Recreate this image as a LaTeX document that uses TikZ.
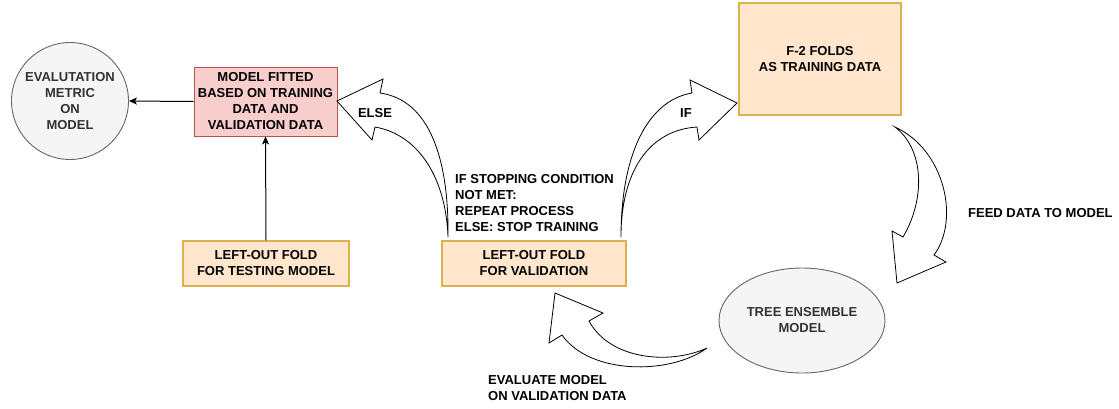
\documentclass[tikz,border=0pt]{standalone}
\usepackage{fontspec}
\setmainfont{Liberation Sans}
\usetikzlibrary{shapes.geometric,arrows.meta}

\definecolor{greyfill}{HTML}{F5F5F5}
\definecolor{greyline}{HTML}{666666}
\definecolor{greytext}{HTML}{333333}
\definecolor{pinkfill}{HTML}{F8CECC}
\definecolor{pinkline}{HTML}{B85450}
\definecolor{peachfill}{HTML}{FFE6CC}
\definecolor{peachline}{HTML}{DDB050}

\tikzset{
  lbl/.style={font=\fontsize{13}{16}\selectfont\bfseries, inner sep=0pt, align=center},
  greyshape/.style={lbl, draw=greyline, fill=greyfill, text=greytext, line width=0.9pt},
  pinkbox/.style={lbl, draw=pinkline, fill=pinkfill, line width=0.9pt},
  peachbox/.style={lbl, draw=peachline, fill=peachfill, line width=1.1pt},
  link/.style={draw=black, line width=1pt, -{Stealth[length=8pt,width=7pt,inset=2pt]}},
  blockarrow/.style={draw=black, fill=white, line width=0.8pt, line join=miter}
}

\begin{document}
\begin{tikzpicture}[x=1pt,y=-1pt]
  \useasboundingbox (0,0) rectangle (1119,408);

  % nodes
  \node[greyshape, circle, minimum size=117pt] (evalcirc) at (70,101)
    {EVALUTATION\\METRIC\\ON\\MODEL};
  \node[pinkbox, minimum width=143pt, minimum height=69pt] (fitbox) at (265.5,101.5)
    {MODEL FITTED\\BASED ON TRAINING\\DATA AND\\VALIDATION DATA};
  \node[peachbox, minimum width=166pt, minimum height=45pt] (testbox) at (266,263.5)
    {LEFT-OUT FOLD\\FOR TESTING MODEL};
  \node[peachbox, minimum width=184pt, minimum height=45pt] (valbox) at (534,263.5)
    {LEFT-OUT FOLD\\FOR VALIDATION};
  \node[peachbox, minimum width=162pt, minimum height=112pt] (trainbox) at (820,59)
    {F-2 FOLDS\\AS TRAINING DATA};
  \node[greyshape, ellipse, minimum width=166pt, minimum height=105pt] (treemodel) at (802,320.5)
    {TREE ENSEMBLE\\MODEL};

  % straight connectors
  \draw[link] (fitbox.west) -- (evalcirc.east);
  \draw[link] (testbox.north) -- (fitbox.south);

  % curved block arrows
  % else: back to the fitted model
  \draw[blockarrow] (448,237) .. controls (449,160) and (430,100) .. (380,93)
    -- (383,79) -- (337,101) -- (372,140) -- (375,127)
    .. controls (420,135) and (446,180) .. (448,237) -- cycle;
  % if: on to the training folds
  \draw[blockarrow] (621,237) .. controls (621,150) and (650,100) .. (692,93)
    -- (690,80) -- (737,103) -- (699,140) -- (697,127)
    .. controls (650,130) and (621,170) .. (621,237) -- cycle;
  % feed data to the model
  \draw[blockarrow] (895,127) .. controls (945,150) and (960,220) .. (934,255)
    -- (946,262) -- (897,283) -- (892,231) -- (903,237)
    .. controls (925,200) and (925,150) .. (895,127) -- cycle;
  % evaluate on the validation fold
  \draw[blockarrow] (707,348) .. controls (670,365) and (610,360) .. (589,321)
    -- (603,313) -- (555,293) -- (549,343) -- (562,335)
    .. controls (590,375) and (670,375) .. (707,348) -- cycle;

  % labels
  \node[lbl] (elselbl) at (375,113) {ELSE};
  \node[lbl] (iflbl) at (686,113) {IF};
  \node[lbl, anchor=west, align=left] (condlbl) at (455,203)
    {IF STOPPING CONDITION\\NOT MET:\\REPEAT PROCESS\\ELSE: STOP TRAINING};
  \node[lbl, anchor=west] (feedlbl) at (968,213) {FEED DATA TO MODEL};
  \node[lbl, anchor=west, align=left] (evallbl) at (488,388.5)
    {EVALUATE MODEL\\ON VALIDATION DATA};
\end{tikzpicture}
\end{document}
